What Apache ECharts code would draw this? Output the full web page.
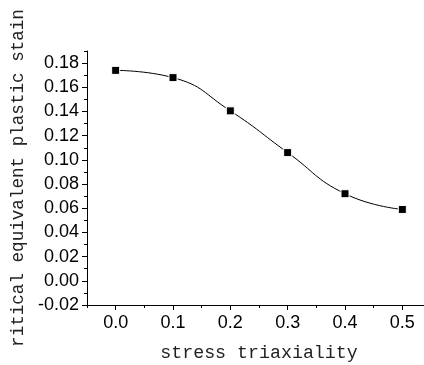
<!DOCTYPE html>
<html>
<head>
<meta charset="utf-8">
<script src="https://cdn.jsdelivr.net/npm/echarts@6/dist/echarts.min.js"></script>
<style>
  html, body { margin: 0; padding: 0; background: #fff; }
  #chart { width: 424px; height: 365px; }
</style>
</head>
<body>
<div id="chart"></div>
<script>
// stress triaxiality vs critical equivalent plastic strain
const triaxiality = [0.0, 0.1, 0.2, 0.3, 0.4, 0.5];
const plasticStrain = [0.174, 0.168, 0.1405, 0.106, 0.072, 0.059];
const xTickLabels = [0.0, 0.1, 0.2, 0.3, 0.4, 0.5];
const yTickLabels = [-0.02, 0.0, 0.02, 0.04, 0.06, 0.08, 0.1, 0.12, 0.14, 0.16, 0.18];

const chart = echarts.init(document.getElementById('chart'));

const labelFont = {
  color: '#000',
  fontFamily: 'Liberation Sans',
  fontSize: 18,
};

const option = {
  animation: false,
  grid: {
    left: 87,
    right: -7,
    top: 51,
    bottom: 60,
    containLabel: false,
    outerBoundsMode: 'none',
  },
  xAxis: [
    {
      type: 'value',
      min: -0.05,
      max: 0.55,
      interval: 0.05,
      name: 'stress triaxiality',
      nameLocation: 'middle',
      nameGap: 39,
      nameTextStyle: {
        color: '#222',
        fontFamily: 'Liberation Mono',
        fontSize: 18.3,
      },
      axisLine: { show: true, onZero: false, lineStyle: { color: '#000', width: 1 } },
      axisTick: { show: true, length: 3, lineStyle: { color: '#000' } },
      axisLabel: {
        ...labelFont,
        margin: 9,
        customValues: xTickLabels,
        formatter: (v) => v.toFixed(1),
      },
      splitLine: { show: false },
    },
    {
      // longer ticks at the labelled positions
      type: 'value',
      position: 'bottom',
      min: -0.05,
      max: 0.55,
      interval: 0.05,
      axisLine: { show: false, onZero: false },
      axisTick: { show: true, length: 5, customValues: xTickLabels, lineStyle: { color: '#000' } },
      axisLabel: { show: false },
      splitLine: { show: false },
    },
  ],
  yAxis: [
    {
      type: 'value',
      min: -0.02,
      max: 0.19,
      interval: 0.01,
      name: 'ritical equivalent plastic stain',
      nameLocation: 'middle',
      nameGap: 60,
      nameTextStyle: {
        color: '#222',
        fontFamily: 'Liberation Mono',
        fontSize: 17.6,
      },
      axisLine: { show: true, onZero: false, lineStyle: { color: '#000', width: 1 } },
      axisTick: { show: true, length: 3, lineStyle: { color: '#000' } },
      axisLabel: {
        ...labelFont,
        margin: 8,
        customValues: yTickLabels,
        formatter: (v) => v.toFixed(2),
      },
      splitLine: { show: false },
    },
    {
      type: 'value',
      position: 'left',
      min: -0.02,
      max: 0.19,
      interval: 0.01,
      axisLine: { show: false, onZero: false },
      axisTick: { show: true, length: 5, customValues: yTickLabels, lineStyle: { color: '#000' } },
      axisLabel: { show: false },
      splitLine: { show: false },
    },
  ],
  series: [
    {
      type: 'line',
      data: triaxiality.map((x, i) => [x, plasticStrain[i]]),
      smooth: 0.5,
      symbol: 'rect',
      symbolSize: 8,
      showAllSymbol: true,
      lineStyle: { color: '#000', width: 1 },
      itemStyle: { color: '#000', borderColor: '#fff', borderWidth: 1 },
    },
  ],
};

chart.setOption(option);
</script>
</body>
</html>
